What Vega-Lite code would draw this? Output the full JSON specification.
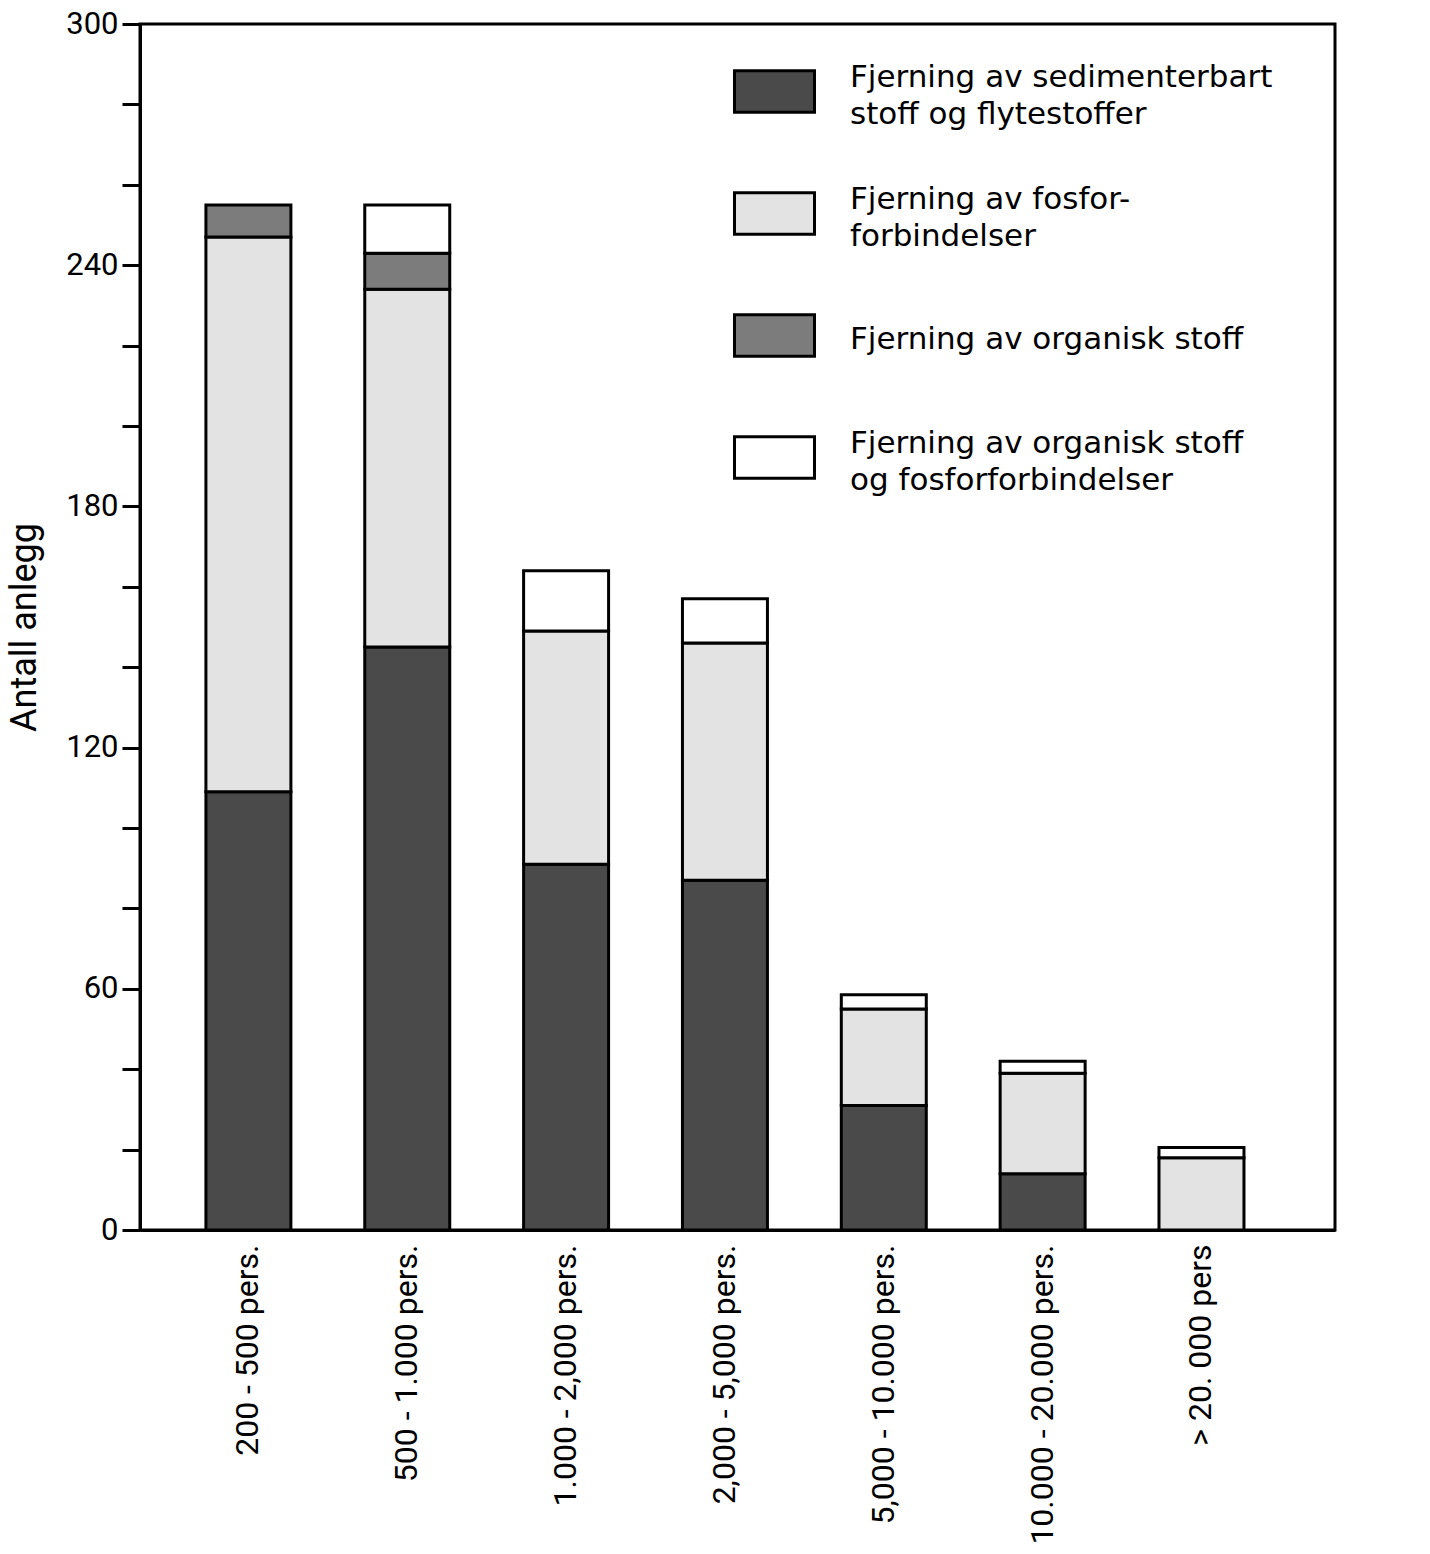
{
  "$schema": "https://vega.github.io/schema/vega-lite/v6.json",
  "autosize": "none",
  "width": 1195,
  "height": 1206,
  "padding": {"left": 140, "top": 24, "right": 95, "bottom": 324},
  "background": "white",
  "config": {
    "view": {"stroke": "black", "strokeWidth": 3},
    "font": "DejaVu Sans"
  },
  "data": {
    "values": [
      {"gruppe": "200 - 500 pers.", "type": "Fjerning av sedimenterbart stoff og flytestoffer", "lag": 1, "antall": 109},
      {"gruppe": "200 - 500 pers.", "type": "Fjerning av fosforforbindelser", "lag": 2, "antall": 138},
      {"gruppe": "200 - 500 pers.", "type": "Fjerning av organisk stoff", "lag": 3, "antall": 8},
      {"gruppe": "500 - 1.000 pers.", "type": "Fjerning av sedimenterbart stoff og flytestoffer", "lag": 1, "antall": 145},
      {"gruppe": "500 - 1.000 pers.", "type": "Fjerning av fosforforbindelser", "lag": 2, "antall": 89},
      {"gruppe": "500 - 1.000 pers.", "type": "Fjerning av organisk stoff", "lag": 3, "antall": 9},
      {"gruppe": "500 - 1.000 pers.", "type": "Fjerning av organisk stoff og fosforforbindelser", "lag": 4, "antall": 12},
      {"gruppe": "1.000 - 2,000  pers.", "type": "Fjerning av sedimenterbart stoff og flytestoffer", "lag": 1, "antall": 91},
      {"gruppe": "1.000 - 2,000  pers.", "type": "Fjerning av fosforforbindelser", "lag": 2, "antall": 58},
      {"gruppe": "1.000 - 2,000  pers.", "type": "Fjerning av organisk stoff og fosforforbindelser", "lag": 4, "antall": 15},
      {"gruppe": "2,000 -  5,000 pers.", "type": "Fjerning av sedimenterbart stoff og flytestoffer", "lag": 1, "antall": 87},
      {"gruppe": "2,000 -  5,000 pers.", "type": "Fjerning av fosforforbindelser", "lag": 2, "antall": 59},
      {"gruppe": "2,000 -  5,000 pers.", "type": "Fjerning av organisk stoff og fosforforbindelser", "lag": 4, "antall": 11},
      {"gruppe": "5,000 - 10.000 pers.", "type": "Fjerning av sedimenterbart stoff og flytestoffer", "lag": 1, "antall": 31},
      {"gruppe": "5,000 - 10.000 pers.", "type": "Fjerning av fosforforbindelser", "lag": 2, "antall": 24},
      {"gruppe": "5,000 - 10.000 pers.", "type": "Fjerning av organisk stoff og fosforforbindelser", "lag": 4, "antall": 3.5},
      {"gruppe": "10.000 - 20.000 pers.", "type": "Fjerning av sedimenterbart stoff og flytestoffer", "lag": 1, "antall": 14},
      {"gruppe": "10.000 - 20.000 pers.", "type": "Fjerning av fosforforbindelser", "lag": 2, "antall": 25},
      {"gruppe": "10.000 - 20.000 pers.", "type": "Fjerning av organisk stoff og fosforforbindelser", "lag": 4, "antall": 3},
      {"gruppe": "> 20. 000 pers", "type": "Fjerning av fosforforbindelser", "lag": 2, "antall": 18},
      {"gruppe": "> 20. 000 pers", "type": "Fjerning av organisk stoff og fosforforbindelser", "lag": 4, "antall": 2.5}
    ]
  },
  "mark": {"type": "bar", "stroke": "black", "strokeWidth": 3, "opacity": 1},
  "encoding": {
    "x": {
      "field": "gruppe",
      "type": "nominal",
      "sort": null,
      "scale": {"paddingInner": 0.465, "paddingOuter": 0.494, "align": 0.42},
      "axis": {
        "title": null,
        "labelAngle": -90,
        "labelFont": "Roboto",
        "labelFontSize": 32,
        "labelColor": "black",
        "labelPadding": 14,
        "labelLimit": 0,
        "ticks": false,
        "domainColor": "black",
        "domainWidth": 3
      }
    },
    "y": {
      "field": "antall",
      "type": "quantitative",
      "stack": "zero",
      "scale": {"domain": [0, 300], "nice": false, "zero": true},
      "axis": {
        "title": "Antall anlegg",
        "titleFont": "Roboto",
        "titleFontSize": 36,
        "titleFontWeight": "normal",
        "titleColor": "black",
        "titlePadding": 22,
        "values": [0, 20, 40, 60, 80, 100, 120, 140, 160, 180, 200, 220, 240, 260, 280, 300],
        "labelExpr": "datum.value % 60 == 0 ? datum.label : ''",
        "labelFont": "Roboto",
        "labelFontSize": 31,
        "labelColor": "black",
        "labelPadding": 4,
        "tickSize": 18,
        "tickWidth": 3,
        "tickColor": "black",
        "domainColor": "black",
        "domainWidth": 3,
        "grid": false
      }
    },
    "order": {"field": "lag", "type": "quantitative", "sort": "ascending"},
    "color": {
      "field": "type",
      "type": "nominal",
      "sort": [
        "Fjerning av sedimenterbart stoff og flytestoffer",
        "Fjerning av fosforforbindelser",
        "Fjerning av organisk stoff",
        "Fjerning av organisk stoff og fosforforbindelser"
      ],
      "scale": {
        "domain": [
          "Fjerning av sedimenterbart stoff og flytestoffer",
          "Fjerning av fosforforbindelser",
          "Fjerning av organisk stoff",
          "Fjerning av organisk stoff og fosforforbindelser"
        ],
        "range": ["#4a4a4a", "#e3e3e3", "#7c7c7c", "#ffffff"]
      },
      "legend": {
        "title": null,
        "orient": "none",
        "legendX": 593,
        "legendY": 26,
        "padding": 0,
        "gridAlign": "all",
        "symbolType": "M-1,-0.52H1V0.52H-1Z",
        "symbolSize": 6400,
        "symbolStrokeColor": "black",
        "symbolStrokeWidth": 3,
        "symbolOpacity": 1,
        "labelFont": "DejaVu Sans",
        "labelFontSize": 31,
        "labelColor": "black",
        "labelOffset": 34,
        "labelLimit": 0,
        "rowPadding": 42,
        "labelExpr": "datum.label == 'Fjerning av sedimenterbart stoff og flytestoffer' ? ['Fjerning av sedimenterbart', 'stoff og flytestoffer'] : datum.label == 'Fjerning av fosforforbindelser' ? ['Fjerning av fosfor-', 'forbindelser'] : datum.label == 'Fjerning av organisk stoff og fosforforbindelser' ? ['Fjerning av organisk stoff', 'og fosforforbindelser'] : datum.label",
        "encode": {
          "labels": {"update": {
            "lineHeight": {"value": 37},
            "dy": {"signal": "datum.value == 'Fjerning av organisk stoff' ? 4 : -14"}
          }}
        }
      }
    }
  }
}
